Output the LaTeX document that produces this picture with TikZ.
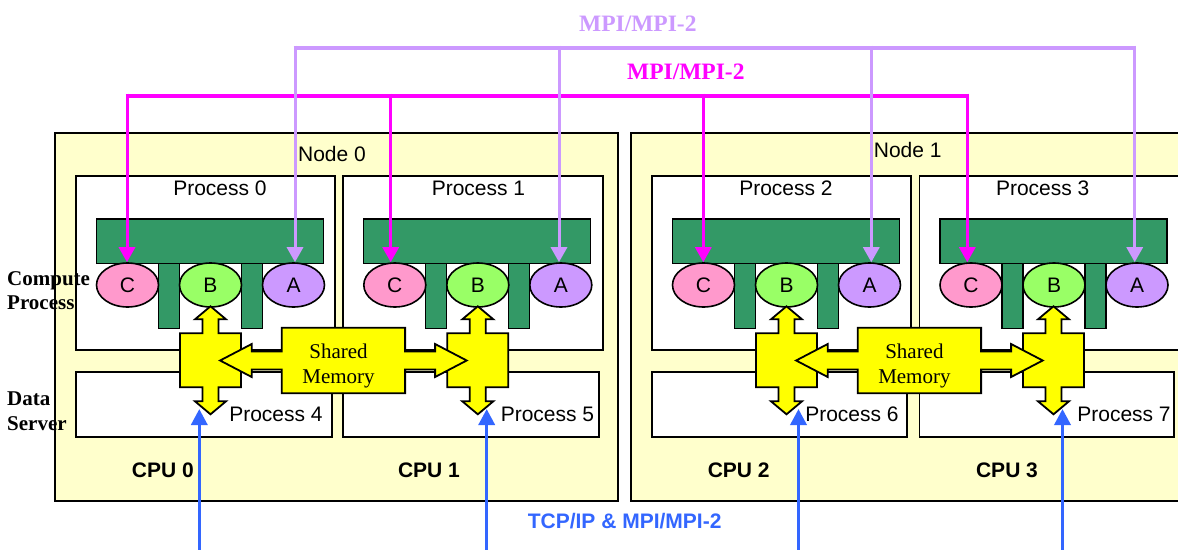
\documentclass[tikz,border=0pt]{standalone}
\usepackage{fontspec}
\setmainfont{Liberation Serif}
\newfontfamily\arialf{Liberation Sans}
\usetikzlibrary{arrows.meta,shapes.geometric}
\definecolor{nodebg}{HTML}{FFFFCC}
\definecolor{bargreen}{HTML}{339966}
\definecolor{cpink}{HTML}{FF99CC}
\definecolor{bgreen}{HTML}{99FF66}
\definecolor{apurple}{HTML}{CC99FF}
\definecolor{magc}{HTML}{FF00FF}
\definecolor{lpurple}{HTML}{CC99FF}
\definecolor{tblue}{HTML}{3366FF}
\definecolor{yshp}{HTML}{FFFF00}
\tikzset{
  nodebox/.style={draw=black, line width=2pt, fill=nodebg},
  procbox/.style={draw=black, line width=1.8pt, fill=white},
  gbar/.style={draw=black, line width=1.2pt, fill=bargreen},
  ell/.style={ellipse, draw=black, line width=1.6pt, minimum width=62pt, minimum height=44pt, inner sep=0pt, font=\arialf\fontsize{21}{24}\selectfont},
  alabel/.style={anchor=base, inner sep=0pt, font=\arialf\fontsize{21}{24}\selectfont},
  cpulabel/.style={anchor=base, inner sep=0pt, font=\arialf\bfseries\fontsize{21}{24}\selectfont},
  sidelbl/.style={anchor=base west, inner sep=0pt, font=\bfseries\fontsize{21}{24}\selectfont},
  smlbl/.style={anchor=base, inner sep=0pt, font=\fontsize{21}{24}\selectfont},
  mpilbl/.style={anchor=base, inner sep=0pt, font=\bfseries\fontsize{23.5}{26}\selectfont},
  magbus/.style={draw=magc, line width=4pt},
  magdrop/.style={draw=magc, line width=3pt, -{Triangle[length=15pt,width=16pt]}},
  purbus/.style={draw=lpurple, line width=4pt},
  purdrop/.style={draw=lpurple, line width=3pt, -{Triangle[length=15pt,width=16pt]}},
  bluearr/.style={draw=tblue, line width=3.5pt, -{Triangle[length=16pt,width=16pt]}},
  yshape/.style={draw=black, line width=1.8pt, fill=yshp, line join=miter}
}
\newcommand{\ycross}[2]{%
  \begin{scope}[shift={(#1,#2)}]
  \draw[yshape] (-8,-41) -- (-15.5,-41) -- (0,-54) -- (15.5,-41) -- (8,-41) -- (8,-27) -- (30.5,-27) -- (30.5,27) -- (8,27) -- (8,41) -- (15.5,41) -- (0,54) -- (-15.5,41) -- (-8,41) -- (-8,27) -- (-30.5,27) -- (-30.5,-27) -- (-8,-27) -- cycle;
  \end{scope}}
\newcommand{\ydouble}[2]{%
  \begin{scope}[shift={(#1,#2)}]
  \draw[yshape] (-123.3,0) -- (-91.7,-16.5) -- (-91.7,-9) -- (-61.7,-9) -- (-61.7,-32.7) -- (61.7,-32.7) -- (61.7,-9) -- (91.7,-9) -- (91.7,-16.5) -- (123.3,0) -- (91.7,16.5) -- (91.7,9) -- (61.7,9) -- (61.7,32.7) -- (-61.7,32.7) -- (-61.7,9) -- (-91.7,9) -- (-91.7,16.5) -- cycle;
  \end{scope}}
\begin{document}
\begin{tikzpicture}[x=1pt,y=-1pt]
\useasboundingbox (0,0) rectangle (1178,549);
\clip (0,0) rectangle (1178,549);
% node boxes
\draw[nodebox] (55,132.7) rectangle (618,501);
\draw[nodebox] (631,132.7) rectangle (1210,501);
\node[alabel] (n0) at (332,161.5) {Node 0};
\node[alabel] (n1) at (907.7,157.5) {Node 1};
% compute processes
\foreach \bx/\w/\i/\lx in {76/259/0/220, 343.3/259.4/1/478.5, 652/258.7/2/786, 919.5/300/3/1042.7} {
  \draw[procbox] (\bx,176) rectangle ++(\w,174);
  \node[alabel] (pl\i) at (\lx,195.2) {Process \i};
  \draw[gbar] (\bx+20.5,219) rectangle (\bx+247.5,263.3);
  \draw[gbar] (\bx+82.5,263.3) rectangle (\bx+103.5,328.3);
  \draw[gbar] (\bx+165.5,263.3) rectangle (\bx+186.5,328.3);
  \node[ell, fill=cpink] (c\i) at (\bx+51.5,285) {C};
  \node[ell, fill=bgreen] (b\i) at (\bx+134.5,285) {B};
  \node[ell, fill=apurple] (a\i) at (\bx+217.5,285) {A};
}
% data server processes
\draw[procbox] (76,372) rectangle (332,437);
\draw[procbox] (343.3,372) rectangle (599,437);
\draw[procbox] (652,372) rectangle (907,437);
\draw[procbox] (919.5,372) rectangle (1174,437);
\node[alabel] (pl4) at (276,421) {Process 4};
\node[alabel] (pl5) at (547.5,421) {Process 5};
\node[alabel] (pl6) at (852,421) {Process 6};
\node[alabel] (pl7) at (1124,421) {Process 7};
% side labels
\node[sidelbl] (cmp1) at (7,285.3) {Compute};
\node[sidelbl] (cmp2) at (7,309.7) {Process};
\node[sidelbl] (ds1) at (7,405.3) {Data};
\node[sidelbl] (ds2) at (7,430.3) {Server};
% CPU labels
\node[cpulabel] (cpu0) at (162.8,477) {CPU 0};
\node[cpulabel] (cpu1) at (429,477) {CPU 1};
\node[cpulabel] (cpu2) at (738.7,477) {CPU 2};
\node[cpulabel] (cpu3) at (1007,477) {CPU 3};
% MPI buses
\node[mpilbl, text=lpurple] (mpiP) at (637.8,31.1) {MPI/MPI-2};
\node[mpilbl, text=magc] (mpiM) at (685.8,79.5) {MPI/MPI-2};
\coordinate (mb0) at (127,95.7);
\coordinate (mb1) at (390.7,95.7);
\coordinate (mb2) at (703.3,95.7);
\coordinate (mb3) at (967.3,95.7);
\draw[magbus] ([xshift=-1.5pt]mb0) -- ([xshift=1.5pt]mb3);
\foreach \i in {0,1,2,3} {
  \draw[magdrop] ([yshift=2pt]mb\i) -- (mb\i |- c\i.north);
}
\coordinate (pb0) at (295,47.7);
\coordinate (pb1) at (559,47.7);
\coordinate (pb2) at (871.3,47.7);
\coordinate (pb3) at (1134.7,47.7);
\draw[purbus] ([xshift=-1.5pt]pb0) -- ([xshift=1.5pt]pb3);
\foreach \i in {0,1,2,3} {
  \draw[purdrop] ([yshift=2pt]pb\i) -- (pb\i |- a\i.north);
}
% shared memory shapes
\ycross{210.5}{360.3}
\ycross{477.8}{360.3}
\ycross{786.5}{360.3}
\ycross{1053.5}{360.3}
\ydouble{343.4}{360.5}
\ydouble{919.4}{360.5}
\node[smlbl] (sm0a) at (338.5,358.3) {Shared};
\node[smlbl] (sm0b) at (338.5,383.3) {Memory};
\node[smlbl] (sm1a) at (914.4,358.3) {Shared};
\node[smlbl] (sm1b) at (914.4,383.3) {Memory};
% TCP/IP arrows
\foreach \i/\x in {0/199.3, 1/486.7, 2/798.5, 3/1062.5} {
  \coordinate (bb\i) at (\x,553);
  \coordinate (bt\i) at (\x,409);
  \draw[bluearr] (bb\i) -- (bt\i);
}
\node[cpulabel, text=tblue] (tcp) at (624.6,528.5) {TCP/IP \& MPI/MPI-2};
\end{tikzpicture}
\end{document}
